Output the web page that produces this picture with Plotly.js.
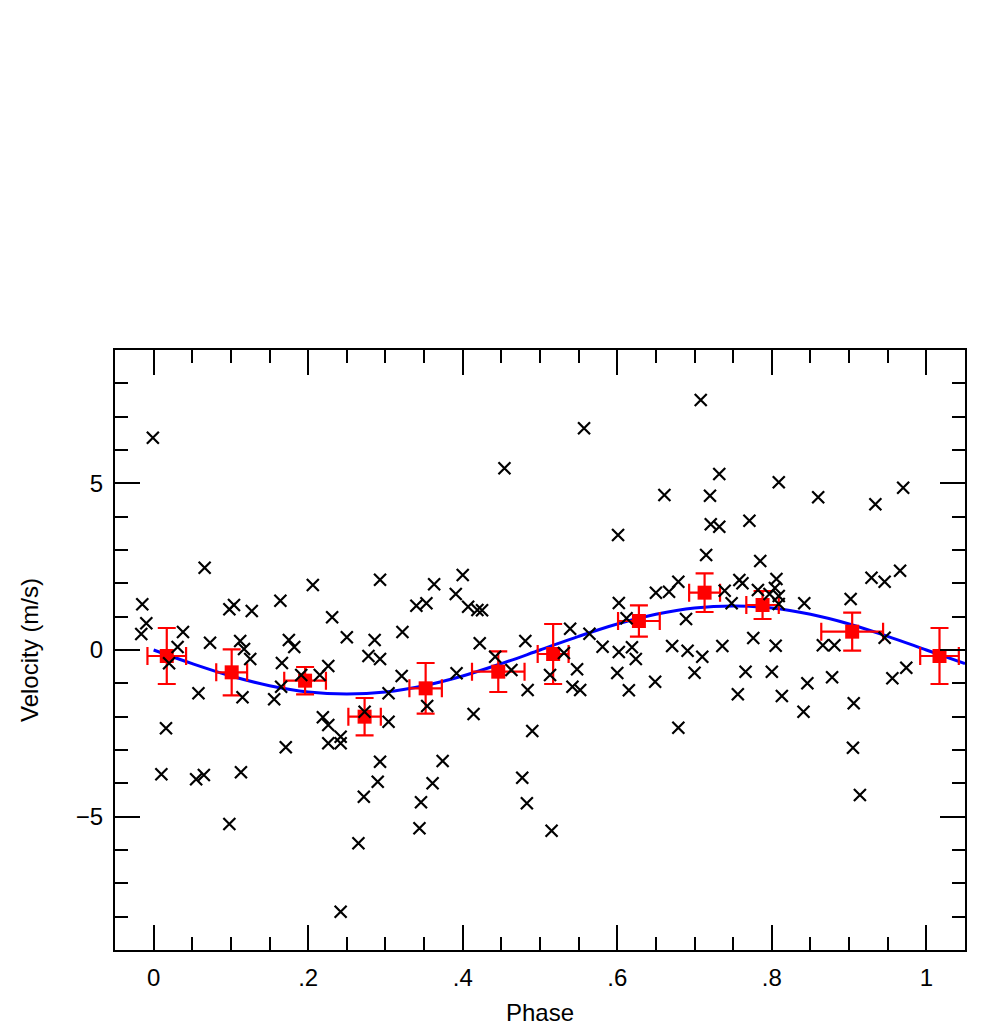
<!DOCTYPE html>
<html>
<head>
<meta charset="utf-8">
<script src="https://cdn.plot.ly/plotly-3.0.1.min.js"></script>
<style>html,body{margin:0;padding:0;background:#fff;}#chart{width:1007px;height:1031px;}</style>
</head>
<body>
<div id="chart"></div>
<script>
// Raw measurements (phase, velocity in m/s)
const rawPhase = [
 -0.0147,-0.0095,-0.016,-0.001,0.066,0.098,0.104,0.127,0.164,0.206,0.293,0.231,0.038,0.031,0.073,0.112,0.117,0.175,0.182,0.250,
 0.286,0.322,0.278,0.293,0.020,0.125,0.166,0.226,0.215,0.191,0.165,0.156,0.115,0.058,0.016,0.010,0.055,0.065,0.113,0.098,
 0.171,0.219,0.226,0.226,0.242,0.242,0.273,0.304,0.304,0.293,0.290,0.272,0.265,0.242,0.321,
 0.557,0.454,0.661,0.601,0.400,0.363,0.340,0.353,0.391,0.407,0.419,0.425,0.422,0.481,0.442,0.539,0.564,0.581,0.602,0.612,
 0.602,0.619,0.624,0.650,0.667,0.679,0.689,0.671,0.691,0.531,0.354,0.392,0.414,0.463,0.484,0.490,0.374,0.361,0.346,0.344,
 0.477,0.483,0.515,0.513,0.548,0.542,0.552,0.600,0.615,0.649,0.679,0.700,
 0.708,0.732,0.720,0.809,0.860,0.970,0.934,0.721,0.732,0.771,0.715,0.785,0.758,0.762,0.806,0.804,0.797,0.809,0.809,0.782,
 0.739,0.748,0.842,0.902,0.929,0.946,0.966,0.776,0.736,0.805,0.710,0.866,0.881,0.946,0.766,0.800,0.756,0.813,0.846,0.841,
 0.878,0.906,0.905,0.914,0.956,0.974
];
const rawVelocity = [
 1.37,0.80,0.48,6.37,2.47,1.22,1.35,1.17,1.48,1.95,2.11,0.98,0.54,0.09,0.22,0.27,0.03,0.30,0.09,0.38,
 0.30,0.54,-0.18,-0.27,-0.40,-0.27,-0.39,-0.48,-0.75,-0.75,-1.10,-1.48,-1.42,-1.30,-2.35,-3.73,-3.88,-3.75,-3.67,-5.22,
 -2.92,-2.02,-2.25,-2.80,-2.80,-2.60,-1.85,-2.15,-1.30,-3.35,-3.95,-4.40,-5.80,-7.85,-0.78,
 6.65,5.45,4.65,3.45,2.25,1.97,1.33,1.40,1.68,1.30,1.20,1.19,0.20,0.27,-0.20,0.64,0.49,0.10,1.41,0.95,
 -0.06,0.08,-0.27,1.72,1.75,2.05,0.93,0.12,-0.02,-0.09,-1.68,-0.70,-1.92,-0.60,-1.20,-2.43,-3.33,-4.00,-4.57,-5.35,
 -3.83,-4.60,-5.42,-0.75,-0.58,-1.10,-1.20,-0.69,-1.21,-0.95,-2.33,-0.68,
 7.50,5.28,4.63,5.03,4.58,4.87,4.37,3.77,3.70,3.88,2.85,2.67,2.10,2.00,2.13,1.86,1.68,1.62,1.38,1.80,
 1.78,1.40,1.40,1.53,2.17,2.05,2.38,0.36,0.12,0.13,-0.20,0.14,0.14,0.37,-0.65,-0.65,-1.33,-1.38,-1.00,-1.85,
 -0.82,-1.60,-2.93,-4.35,-0.85,-0.53
];

// Binned averages
const binPhase    = [0.017, 0.101, 0.196, 0.273, 0.352, 0.446, 0.517, 0.628, 0.713, 0.788, 0.904, 1.017];
const binVelocity = [-0.18, -0.67, -0.92, -2.00, -1.15, -0.65, -0.12, 0.87, 1.72, 1.35, 0.55, -0.18];
const binVelErr   = [0.84, 0.69, 0.41, 0.56, 0.76, 0.61, 0.90, 0.47, 0.58, 0.42, 0.57, 0.84];
const binPhaseErr = [0.025, 0.020, 0.027, 0.021, 0.021, 0.034, 0.020, 0.027, 0.020, 0.021, 0.040, 0.025];

// Fitted curve
const curvePhase    = [0, 0.05, 0.1, 0.15, 0.2, 0.25, 0.3, 0.35, 0.4, 0.45, 0.5, 0.55, 0.6, 0.65, 0.7, 0.75, 0.8, 0.85, 0.9, 0.95, 1.0, 1.05];
const curveVelocity = [0, -0.41, -0.78, -1.07, -1.26, -1.32, -1.26, -1.07, -0.78, -0.41, 0, 0.41, 0.78, 1.07, 1.26, 1.32, 1.26, 1.07, 0.78, 0.41, 0, -0.41];

const xTickVals = [0, 0.2, 0.4, 0.6, 0.8, 1];
const xTickText = ['0', '.2', '.4', '.6', '.8', '1'];

const font = {family: '"Liberation Sans", Arial, Helvetica, sans-serif', size: 24, color: '#000'};

const traces = [
  {
    x: curvePhase, y: curveVelocity, type: 'scatter', mode: 'lines',
    line: {color: '#0000ff', width: 3, shape: 'spline'}, hoverinfo: 'skip'
  },
  {
    x: binPhase, y: binVelocity, type: 'scatter', mode: 'markers',
    marker: {symbol: 'square', size: 14, color: '#ff0000'},
    error_y: {type: 'data', array: binVelErr, visible: true, color: '#ff0000', thickness: 2.2, width: 9},
    error_x: {type: 'data', array: binPhaseErr, visible: true, color: '#ff0000', thickness: 2.2, width: 9}
  },
  {
    x: rawPhase, y: rawVelocity, type: 'scatter', mode: 'markers',
    marker: {symbol: 'x-thin-open', size: 12, color: '#000', line: {color: '#000', width: 2.2}}
  }
];

const axisCommon = {
  showgrid: false, zeroline: false, showline: true, linecolor: '#000', linewidth: 2,
  mirror: 'allticks', ticks: 'inside', ticklen: 25, tickwidth: 2, tickcolor: '#000',
  tickfont: font
};

const layout = {
  width: 1007, height: 1031,
  margin: {l: 115, r: 42, t: 350, b: 81},
  paper_bgcolor: '#fff', plot_bgcolor: '#fff',
  showlegend: false,
  font: font,
  xaxis: Object.assign({}, axisCommon, {
    range: [-0.05, 1.05],
    tickmode: 'array', tickvals: xTickVals, ticktext: xTickText,
    ticklabelstandoff: 5,
    minor: {tickmode: 'linear', tick0: 0, dtick: 0.05, ticks: 'inside', ticklen: 13, tickwidth: 2, tickcolor: '#000'},
    title: {text: 'Phase', font: font, standoff: 14}
  }),
  yaxis: Object.assign({}, axisCommon, {
    range: [-9, 9],
    tickmode: 'linear', tick0: 0, dtick: 5,
    ticklabelstandoff: 5,
    minor: {tickmode: 'linear', tick0: 0, dtick: 1, ticks: 'inside', ticklen: 13, tickwidth: 2, tickcolor: '#000'},
    title: {text: 'Velocity (m/s)', font: font, standoff: 30}
  })
};

Plotly.newPlot('chart', traces, layout, {staticPlot: true, displayModeBar: false});
</script>
</body>
</html>
